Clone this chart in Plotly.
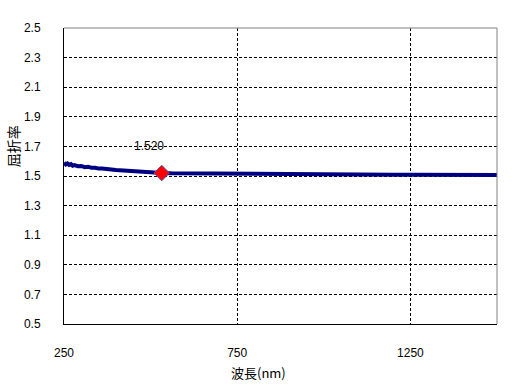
import plotly.graph_objects as go

wavelength = [250, 255, 260, 265, 270, 275, 280, 290, 300, 310, 320, 330, 340, 350, 360,
              370, 380, 400, 420, 440, 460, 480, 500, 532, 560, 600, 650, 700, 750, 800,
              850, 900, 950, 1000, 1050, 1100, 1150, 1200, 1250, 1300, 1350, 1400, 1450, 1500]
refractive_index = [1.590, 1.578, 1.585, 1.575, 1.580, 1.570, 1.574, 1.566, 1.568, 1.560,
                    1.562, 1.555, 1.556, 1.550, 1.551, 1.546, 1.545, 1.540, 1.536, 1.533,
                    1.529, 1.526, 1.523, 1.520, 1.518, 1.517, 1.516, 1.515, 1.514, 1.513,
                    1.5125, 1.512, 1.512, 1.511, 1.511, 1.510, 1.510, 1.509, 1.509, 1.508,
                    1.508, 1.507, 1.507, 1.506]
marker_wavelength = [532]
marker_value = [1.520]
marker_label = "1.520"

x_ticks = [250, 750, 1250]
y_ticks = [0.5, 0.7, 0.9, 1.1, 1.3, 1.5, 1.7, 1.9, 2.1, 2.3, 2.5]

num_font = dict(family="Liberation Sans, Arial, sans-serif", size=12, color="black")
jp_font = dict(family="Noto Sans CJK JP, sans-serif", size=13, color="black")

fig = go.Figure()
fig.add_trace(go.Scatter(x=wavelength, y=refractive_index, mode="lines",
                         line=dict(color="#000080", width=4), hoverinfo="skip"))
fig.add_trace(go.Scatter(x=marker_wavelength, y=marker_value, mode="markers",
                         marker=dict(symbol="diamond", size=12, color="#ff0000",
                                     line=dict(color="#5050a0", width=1))))

fig.add_annotation(x=marker_wavelength[0], y=marker_value[0], text=marker_label,
                   showarrow=False, xshift=-13, yshift=27, font=num_font)
fig.add_annotation(x=0.45, y=-0.165, xref="paper", yref="paper", text="波長(nm)",
                   showarrow=False, font=jp_font, xanchor="center", yanchor="middle")
fig.add_annotation(x=-0.118, y=0.6, xref="paper", yref="paper", text="屈折率",
                   showarrow=False, font=dict(family="Noto Sans CJK JP, sans-serif", size=14, color="black"),
                   textangle=-90, xanchor="center", yanchor="middle")

fig.add_shape(type="line", xref="paper", yref="paper", x0=0, x1=1, y0=1, y1=1,
              line=dict(color="#808080", width=1))
fig.add_shape(type="line", xref="paper", yref="paper", x0=1, x1=1, y0=0, y1=1,
              line=dict(color="#808080", width=1))

fig.update_layout(
    width=521, height=389,
    margin=dict(l=64, r=24, t=28, b=65),
    paper_bgcolor="white", plot_bgcolor="white",
    showlegend=False,
    xaxis=dict(range=[250, 1500], tickvals=x_ticks, ticktext=[str(v) for v in x_ticks],
               showgrid=True, gridcolor="black", griddash="3px,2px", gridwidth=1,
               showline=True, linecolor="black", linewidth=1, ticks="", zeroline=False,
               tickfont=num_font, ticklabelstandoff=18),
    yaxis=dict(range=[0.5, 2.5], tickvals=y_ticks, ticktext=[f"{v:.1f}" for v in y_ticks],
               showgrid=True, gridcolor="black", griddash="3px,2px", gridwidth=1,
               showline=True, linecolor="black", linewidth=1, ticks="", zeroline=False,
               tickfont=num_font, ticklabelstandoff=20),
)

fig.write_html("out.html")
